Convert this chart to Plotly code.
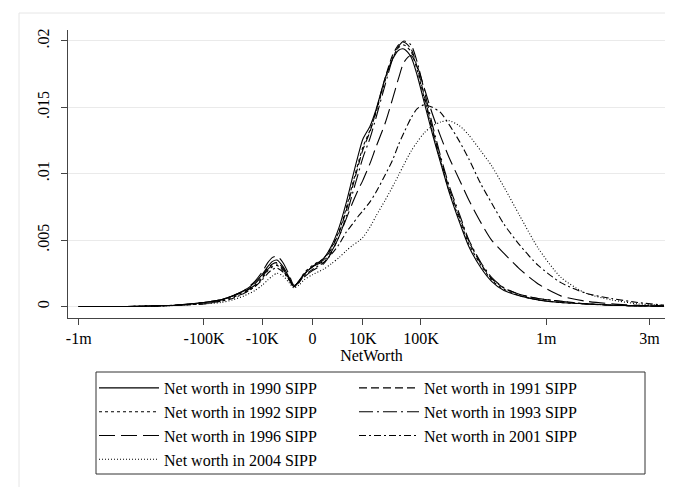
import numpy as np
import plotly.graph_objects as go

# Net worth evaluation points (dollars)
net_worth = [-1000000, -500000, -300000, -200000, -100000, -60000, -40000, -25000, -15000, -10000,
             -7000, -5000, -3500, -2000, -1000, -500, -200, -50, 0, 100,
             500, 1500, 3000, 5000, 7500, 10000, 15000, 20000, 30000, 40000,
             50000, 60000, 75000, 90000, 110000, 135000, 165000, 200000, 250000, 300000,
             375000, 450000, 550000, 700000, 900000, 1200000, 1600000, 2100000, 2700000, 3400000]

dens_1990 = [0, 0, 0.00005, 0.0001, 0.0003, 0.0005, 0.0008, 0.0012, 0.0018, 0.0024,
             0.0030, 0.0034, 0.0035, 0.0030, 0.0022, 0.0015, 0.0019, 0.0024, 0.0030, 0.0036,
             0.0045, 0.0060, 0.0078, 0.0097, 0.0114, 0.0126, 0.0136, 0.0148, 0.0172, 0.0186,
             0.0193, 0.0194, 0.0188, 0.0174, 0.0153, 0.0130, 0.0108, 0.0086, 0.0063, 0.0045,
             0.0029, 0.0019, 0.0012, 0.0008, 0.0005, 0.0003, 0.0002, 0.0001, 0.00005, 0.00002]
dens_1991 = [0, 0, 0.00005, 0.0001, 0.0003, 0.0005, 0.0008, 0.0011, 0.0017, 0.0023,
             0.0029, 0.0032, 0.0033, 0.0029, 0.0021, 0.0015, 0.0019, 0.0024, 0.0030, 0.0035,
             0.0043, 0.0056, 0.0072, 0.0090, 0.0106, 0.0118, 0.0132, 0.0147, 0.0172, 0.0189,
             0.0197, 0.0199, 0.0194, 0.0180, 0.0158, 0.0134, 0.0111, 0.0089, 0.0067, 0.0049,
             0.0032, 0.0021, 0.0014, 0.0009, 0.0006, 0.0004, 0.0002, 0.0001, 0.00005, 0.00002]
dens_1992 = [0, 0, 0.00005, 0.0001, 0.0002, 0.0004, 0.0007, 0.0010, 0.0015, 0.0021,
             0.0027, 0.0030, 0.0031, 0.0027, 0.0020, 0.0015, 0.0019, 0.0025, 0.0031, 0.0036,
             0.0044, 0.0057, 0.0074, 0.0092, 0.0108, 0.0120, 0.0133, 0.0146, 0.0170, 0.0187,
             0.0195, 0.0197, 0.0192, 0.0178, 0.0156, 0.0132, 0.0109, 0.0087, 0.0065, 0.0047,
             0.0031, 0.0020, 0.0013, 0.0008, 0.0005, 0.0003, 0.0002, 0.0001, 0.00005, 0.00002]
dens_1993 = [0, 0, 0.00005, 0.0001, 0.0003, 0.0005, 0.0008, 0.0011, 0.0016, 0.0022,
             0.0028, 0.0031, 0.0032, 0.0028, 0.0021, 0.0015, 0.0019, 0.0024, 0.0030, 0.0034,
             0.0041, 0.0053, 0.0068, 0.0085, 0.0100, 0.0112, 0.0127, 0.0142, 0.0167, 0.0186,
             0.0196, 0.0200, 0.0197, 0.0184, 0.0162, 0.0137, 0.0113, 0.0091, 0.0069, 0.0050,
             0.0033, 0.0022, 0.0014, 0.0009, 0.0006, 0.0004, 0.0002, 0.0001, 0.00005, 0.00002]
dens_1996 = [0, 0, 0.00005, 0.0001, 0.0003, 0.0005, 0.0008, 0.0012, 0.0019, 0.0026,
             0.0033, 0.0037, 0.0038, 0.0033, 0.0024, 0.0016, 0.0018, 0.0022, 0.0027, 0.0032,
             0.0040, 0.0053, 0.0066, 0.0078, 0.0088, 0.0095, 0.0108, 0.0120, 0.0138, 0.0156,
             0.0172, 0.0184, 0.0189, 0.0181, 0.0164, 0.0145, 0.0128, 0.0112, 0.0095, 0.0080,
             0.0063, 0.0050, 0.0040, 0.0028, 0.0017, 0.0008, 0.0004, 0.0002, 0.0001, 0.00005]
dens_2001 = [0, 0, 0.00005, 0.0001, 0.0002, 0.0004, 0.0006, 0.0010, 0.0015, 0.0020,
             0.0025, 0.0028, 0.0029, 0.0026, 0.0020, 0.0015, 0.0018, 0.0023, 0.0028, 0.0033,
             0.0039, 0.0047, 0.0056, 0.0062, 0.0068, 0.0072, 0.0079, 0.0086, 0.0099, 0.0110,
             0.0122, 0.0131, 0.0142, 0.0149, 0.0152, 0.0150, 0.0146, 0.0137, 0.0124, 0.0111,
             0.0092, 0.0078, 0.0062, 0.0046, 0.0031, 0.0018, 0.0010, 0.0006, 0.0003, 0.0001]
dens_2004 = [0, 0, 0.00003, 0.00008, 0.0002, 0.0003, 0.0005, 0.0008, 0.0012, 0.0016,
             0.0020, 0.0023, 0.0025, 0.0023, 0.0018, 0.0014, 0.0016, 0.0020, 0.0024, 0.0028,
             0.0032, 0.0037, 0.0042, 0.0046, 0.0049, 0.0052, 0.0060, 0.0068, 0.0080, 0.0090,
             0.0099, 0.0107, 0.0117, 0.0124, 0.0131, 0.0136, 0.0139, 0.0140, 0.0136, 0.0129,
             0.0117, 0.0106, 0.0090, 0.0068, 0.0044, 0.0022, 0.0010, 0.0005, 0.0002, 0.0001]

series_names = ["Net worth in 1990 SIPP", "Net worth in 1991 SIPP", "Net worth in 1992 SIPP",
                "Net worth in 1993 SIPP", "Net worth in 1996 SIPP", "Net worth in 2001 SIPP",
                "Net worth in 2004 SIPP"]
series_values = [dens_1990, dens_1991, dens_1992, dens_1993, dens_1996, dens_2001, dens_2004]
dash_styles = ["solid", "8px,4px", "3px,3px", "14px,4px,2px,4px", "16px,6px", "7px,3px,2px,3px", "1px,2px"]

tick_values = [-1000000, -100000, -10000, 0, 10000, 100000, 1000000, 3000000]
tick_labels = ["-1m", "-100K", "-10K", "0", "10K", "100K", "1m", "3m"]
y_ticks = [0, 0.005, 0.01, 0.015, 0.02]
y_labels = ["0", ".005", ".01", ".015", ".02"]


def cbrt(v):
    return np.cbrt(np.asarray(v, dtype=float))


FONT = "Liberation Serif, Times New Roman, serif"
fig = go.Figure()
xs = cbrt(net_worth)
for name, vals, dash in zip(series_names, series_values, dash_styles):
    fig.add_trace(go.Scatter(x=xs, y=vals, mode="lines", name=name,
                             line=dict(color="black", width=1.1, dash=dash, shape="spline", smoothing=0.7)))

PL, PR, PT, PB = 60, 667, 22, 310   # plot area in pixels


def px_x(p):
    return (p - PL) / (PR - PL)


def px_y(p):
    return (PB - p) / (PB - PT)


fig.update_layout(
    width=673, height=487,
    margin=dict(l=PL, r=673 - PR, t=PT, b=487 - PB, autoexpand=False),
    paper_bgcolor="white", plot_bgcolor="white",
    font=dict(family=FONT, size=16, color="black"),
    showlegend=True,
    legend=dict(orientation="h", x=px_x(86), y=px_y(363), xanchor="left", yanchor="top",
                entrywidth=185, entrywidthmode="pixels", itemwidth=60,
                borderwidth=0, bgcolor="rgba(0,0,0,0)",
                font=dict(family=FONT, size=16), traceorder="normal"),
    xaxis=dict(range=[-104.6, 155.1], tickvals=cbrt(tick_values).tolist(), ticktext=tick_labels,
               showgrid=False, zeroline=False, showline=True, linecolor="#444", linewidth=1,
               ticks="outside", ticklen=6, tickcolor="#444",
               title=dict(text="NetWorth", standoff=2, font=dict(size=16))),
    yaxis=dict(range=[-0.000865, 0.020827], tickvals=y_ticks, ticktext=y_labels, tickangle=-90,
               showgrid=True, gridcolor="#eaeaea", gridwidth=1, zeroline=False,
               showline=True, linecolor="#444", linewidth=1,
               ticks="outside", ticklen=6, tickcolor="#444", ticklabelstandoff=6),
    shapes=[dict(type="line", xref="paper", yref="paper", x0=px_x(11), x1=px_x(690), y0=px_y(5), y1=px_y(5),
                 line=dict(color="#e6e6e6", width=1)),
            dict(type="line", xref="paper", yref="paper", x0=px_x(11), x1=px_x(11), y0=px_y(5), y1=px_y(500),
                 line=dict(color="#e6e6e6", width=1)),
            dict(type="rect", xref="paper", yref="paper", x0=px_x(88), x1=px_x(637), y0=px_y(364), y1=px_y(466),
                 line=dict(color="#333", width=1), fillcolor="rgba(0,0,0,0)")],
    annotations=[dict(text="(consolidated above $3 million)", xref="paper", yref="paper",
                      x=px_x(345.5), y=1.075, xanchor="center", yanchor="bottom", showarrow=False,
                      font=dict(family=FONT, size=23))],
)

fig.write_html("out.html")
